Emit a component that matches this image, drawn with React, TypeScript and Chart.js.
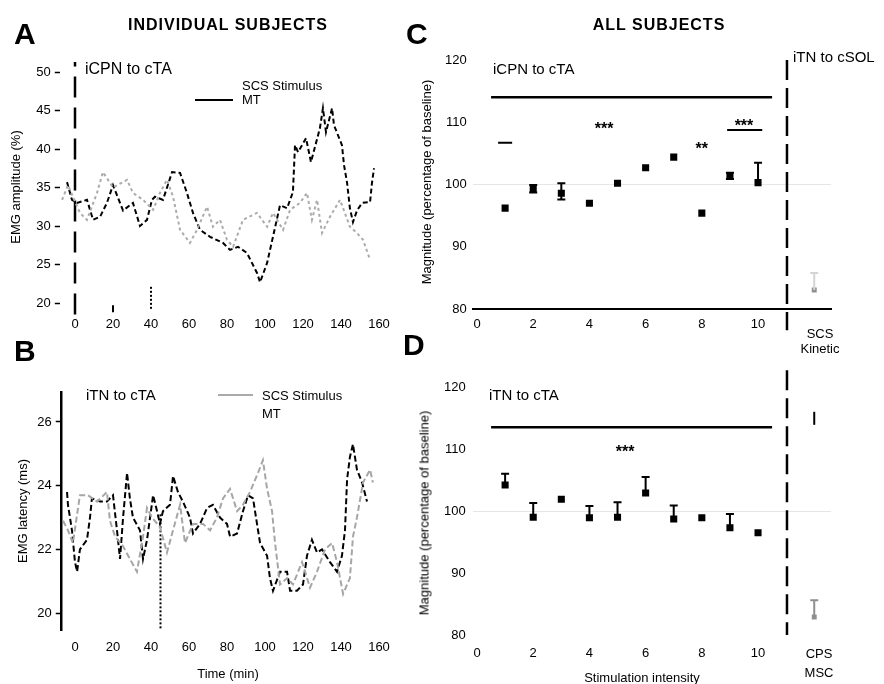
import React, { useEffect, useRef } from "react";
import { Chart, registerables } from "chart.js";

Chart.register(...registerables);

const FONT = "'Liberation Sans', Arial, Helvetica, sans-serif";
const PAGE_W = 884;
const PAGE_H = 684;
const AXW = 50;
const AXH = 30;

// ---------------- Panel A : individual subject, iCPN to cTA ----------------
const aBlackTime = [-4.2, -1.6, 1.1, 6.3, 9.5, 13.2, 16.8, 20, 25.3, 30.5, 34.2, 37.9, 40.5, 42.1, 46.3, 51.1, 55.3, 58.9, 62.1, 65.8, 71.1, 77.9, 81.6, 85.8, 90.5, 95.8, 97.4, 101.1, 104.2, 107.9, 111.6, 114.7, 115.8, 117.4, 121.6, 124.2, 128.9, 130.5, 132.1, 135.3, 136.3, 140.5, 141.6, 143.2, 144.7, 146.3, 148.4, 151.1, 155.3, 156.3, 157.4];
const aBlackValue = [35.7, 33.4, 33.0, 33.4, 30.8, 31.2, 33.0, 35.3, 32.0, 33.0, 30.0, 30.8, 33.4, 33.8, 33.4, 37.0, 36.9, 34.3, 31.7, 29.5, 28.6, 27.8, 26.9, 27.3, 26.5, 23.9, 22.7, 25.2, 28.6, 32.7, 32.3, 34.4, 40.5, 39.6, 41.4, 38.3, 42.7, 45.3, 42.2, 45.3, 43.1, 40.5, 37.9, 35.6, 32.3, 30.5, 32.0, 33.0, 33.1, 35.6, 37.5];
const aGrayTime = [-6.8, -3.7, 2.6, 6.3, 11.6, 14.7, 20.0, 27.4, 30.5, 35.8, 41.1, 44.7, 48.4, 51.6, 55.3, 60.5, 64.2, 69.5, 72.6, 76.3, 80.0, 83.2, 88.4, 95.8, 101.1, 104.2, 109.5, 113.2, 118.4, 122.1, 124.7, 127.4, 130.0, 134.2, 139.5, 144.7, 148.4, 151.6, 155.3];
const aGrayValue = [33.4, 35.3, 31.7, 30.8, 34.3, 37.0, 35.0, 36.0, 34.3, 33.4, 32.1, 34.3, 36.0, 33.8, 29.5, 27.8, 29.5, 32.5, 29.9, 30.8, 28.2, 27.3, 30.8, 31.7, 29.9, 31.7, 29.5, 32.1, 33.0, 34.3, 30.8, 33.4, 29.1, 31.2, 33.4, 29.9, 29.1, 28.2, 25.6];
const aTimeTicks = [0, 20, 40, 60, 80, 100, 120, 140, 160];
const aValueTicks = [20, 25, 30, 35, 40, 45, 50];
const aOnsetSpan = [18.5, 51.3];
const aMarkTime = 20;
const aMarkSpan = [19.7, 18.8];
const aDotTime = 40;
const aDotSpan = [22.1, 19.0];

// ---------------- Panel B : individual subject, iTN to cTA ----------------
const bBlackTime = [-4.2, -3.7, -1.6, 0, 1.1, 2.6, 6.3, 7.9, 8.9, 13.2, 16.8, 20.0, 22.1, 23.7, 25.3, 27.4, 28.9, 30.5, 34.2, 35.8, 37.9, 41.1, 43.2, 44.7, 46.3, 50.0, 51.6, 54.2, 56.8, 60.5, 62.1, 65.8, 69.5, 72.6, 76.3, 80.0, 81.6, 85.3, 88.4, 91.1, 93.7, 95.8, 97.4, 101.1, 102.6, 104.2, 107.9, 111.6, 113.2, 116.8, 120.0, 122.1, 124.7, 127.4, 130.0, 134.2, 137.9, 140.5, 142.1, 143.2, 144.7, 146.3, 148.4, 151.1, 153.7];
const bBlackValue = [23.8, 23.4, 22.6, 21.6, 21.3, 22.0, 22.3, 23.0, 23.6, 23.5, 23.5, 23.7, 22.6, 21.7, 23.0, 24.4, 23.6, 23.0, 22.6, 21.7, 22.3, 23.7, 23.2, 22.8, 23.2, 23.4, 24.3, 23.8, 23.5, 23.0, 22.5, 22.8, 23.3, 23.4, 23.0, 22.8, 22.4, 22.5, 23.2, 23.7, 23.6, 22.8, 22.2, 21.8, 21.1, 20.7, 21.3, 21.3, 20.7, 20.7, 20.9, 21.8, 22.3, 21.9, 22.0, 21.6, 21.3, 21.8, 22.6, 24.2, 24.9, 25.3, 24.5, 24.1, 23.5];
const bGrayTime = [-6.3, -3.7, -1.1, 1.6, 2.6, 6.8, 11.6, 16.8, 18.4, 21.1, 25.3, 28.9, 32.6, 35.8, 37.9, 40.5, 44.7, 48.4, 51.6, 55.3, 57.9, 62.1, 67.4, 71.1, 74.7, 77.9, 81.6, 85.3, 88.4, 92.1, 96.3, 98.9, 101.1, 103.7, 105.3, 107.9, 111.6, 114.7, 119.5, 123.7, 127.4, 131.6, 135.3, 137.9, 141.1, 144.7, 146.3, 148.4, 151.6, 155.3, 156.8];
const bGrayValue = [22.9, 22.6, 22.2, 23.3, 23.7, 23.7, 23.5, 23.8, 22.9, 22.4, 22.1, 21.7, 21.3, 22.4, 23.3, 23.0, 22.7, 21.9, 22.6, 23.4, 22.2, 22.8, 22.8, 22.6, 23.0, 23.6, 23.9, 23.2, 23.4, 23.8, 24.4, 24.8, 23.9, 23.2, 22.2, 20.9, 21.1, 20.9, 21.6, 20.8, 21.3, 22.0, 22.2, 21.6, 20.6, 21.1, 22.4, 23.0, 24.1, 24.5, 24.1];
const bTimeTicks = [0, 20, 40, 60, 80, 100, 120, 140, 160];
const bValueTicks = [20, 22, 24, 26];
const bDotTime = 45;
const bDotSpan = [23.1, 19.47];

// ---------------- Panel C : all subjects, iCPN to cTA ----------------
const intensity = [1, 2, 3, 4, 5, 6, 7, 8, 9, 10];
const intensityTicks = [0, 2, 4, 6, 8, 10];
const pctTicks = [80, 90, 100, 110, 120];
const cMean = [96.2, 99.3, 98.6, 97.0, 100.2, 102.7, 104.4, 95.4, 101.4, 100.3];
const cErrHi = [null, 99.9, 100.2, null, null, null, null, null, 101.9, 103.5];
const cErrLo = [null, 98.7, 97.6, null, null, null, null, null, 100.9, null];
const cScsPos = 12;
const cScsMean = 83.05;
const cScsErrHi = 85.8;
const cSigBar = { from: 0.5, to: 10.5, level: 114 };
const cSigShort = { from: 8.9, to: 10.15, level: 108.75 };
const cDash = { from: 0.75, to: 1.25, level: 106.7 };
const cStars = [
  { x: 4.52, y: 109.4, text: "***" },
  { x: 8.0, y: 106.3, text: "**" },
  { x: 9.5, y: 110.0, text: "***" },
];

// ---------------- Panel D : all subjects, iTN to cTA ----------------
const dMean = [104.2, 99.0, 101.9, 98.9, 99.0, 102.9, 98.7, 98.9, 97.3, 96.5];
const dErrHi = [106.0, 101.3, null, 100.8, 101.4, 105.5, 100.9, null, 99.5, null];
const dCpsPos = 12;
const dCpsMean = 82.9;
const dCpsErrHi = 85.6;
const dCpsBlackMid = 114.9;
const dCpsBlackHi = 116.0;
const dCpsBlackLo = 113.9;
const dSigBar = { from: 0.5, to: 10.5, level: 113.5 };
const dStars = [{ x: 5.27, y: 110.0, text: "***" }];

const separatorPos = 11.03;
const cSeparatorSpan = [120, 76.6];
const dSeparatorSpan = [122.7, 80];

// ---------------------------------------------------------------------
type Rect = { left: number; top: number; right: number; bottom: number };

const toXY = (xs: number[], ys: number[]) => xs.map((x, i) => ({ x, y: ys[i] }));

function lineDs(pts: any[], color: string, width: number, dash: number[] = [], clip: any = undefined) {
  const ds: any = {
    data: pts,
    showLine: true,
    borderColor: color,
    backgroundColor: color,
    borderWidth: width,
    borderDash: dash,
    pointRadius: 0,
    pointHoverRadius: 0,
    tension: 0,
    fill: false,
  };
  if (clip !== undefined) ds.clip = clip;
  return ds;
}

function padFor(r: Rect) {
  return { left: r.left - AXW, top: r.top, right: PAGE_W - r.right, bottom: PAGE_H - r.bottom - AXH };
}

function xScale(min: number, max: number, ticks: number[], pad: number, border: boolean, borderWidth = 2) {
  return {
    type: "linear",
    min,
    max,
    afterBuildTicks: (s: any) => {
      s.ticks = ticks.map((v) => ({ value: v }));
    },
    afterFit: (s: any) => {
      s.height = AXH;
    },
    ticks: { autoSkip: false, maxRotation: 0, minRotation: 0, padding: pad, color: "#000", font: { family: FONT, size: 13 } },
    grid: { display: false },
    border: border ? { display: true, color: "#000", width: borderWidth } : { display: false },
  };
}

function yScale(min: number, max: number, ticks: number[], pad: number, tickMarks: boolean, border: boolean, refLine: number | null) {
  return {
    type: "linear",
    min,
    max,
    afterBuildTicks: (s: any) => {
      s.ticks = ticks.map((v) => ({ value: v }));
    },
    afterFit: (s: any) => {
      s.width = AXW;
    },
    ticks: { padding: pad, color: "#000", font: { family: FONT, size: 13 } },
    grid: {
      display: true,
      drawOnChartArea: refLine !== null,
      drawTicks: tickMarks,
      tickLength: 5,
      tickColor: "#000",
      tickWidth: 1.5,
      color: (ctx: any) => (refLine !== null && ctx.tick && ctx.tick.value === refLine ? "#e6e6e6" : "rgba(0,0,0,0)"),
    },
    border: border ? { display: true, color: "#000", width: 2.5 } : { display: false },
  };
}

function makeExtras(texts: { x: number; y: number; text: string }[]) {
  return {
    id: "extras",
    afterDatasetsDraw(chart: any) {
      const ctx = chart.ctx;
      const xs = chart.scales.x;
      const ys = chart.scales.y;
      chart.data.datasets.forEach((ds: any) => {
        if (!ds.errHi && !ds.errLo) return;
        const caps = ds.errCaps !== false;
        ctx.save();
        ctx.strokeStyle = ds.errColor || "#000";
        ctx.lineWidth = 2;
        ds.data.forEach((p: any, j: number) => {
          const hi = ds.errHi ? ds.errHi[j] : null;
          const lo = ds.errLo ? ds.errLo[j] : null;
          if (hi == null && lo == null) return;
          const px = xs.getPixelForValue(p.x);
          const yTop = ys.getPixelForValue(hi == null ? p.y : hi);
          const yBot = ys.getPixelForValue(lo == null ? p.y : lo);
          ctx.beginPath();
          ctx.moveTo(px, yTop);
          ctx.lineTo(px, yBot);
          if (caps && hi != null) {
            ctx.moveTo(px - 4, yTop);
            ctx.lineTo(px + 4, yTop);
          }
          if (caps && lo != null) {
            ctx.moveTo(px - 4, yBot);
            ctx.lineTo(px + 4, yBot);
          }
          ctx.stroke();
        });
        ctx.restore();
      });
      ctx.save();
      ctx.fillStyle = "#000";
      ctx.textAlign = "center";
      ctx.textBaseline = "middle";
      ctx.font = `bold 16px ${FONT}`;
      texts.forEach((t) => ctx.fillText(t.text, xs.getPixelForValue(t.x), ys.getPixelForValue(t.y) + 4));
      ctx.restore();
    },
  };
}

function baseConfig(rect: Rect, datasets: any[], scales: any, texts: any[] = []): any {
  return {
    type: "scatter",
    data: { datasets },
    options: {
      responsive: false,
      animation: false,
      events: [],
      layout: { padding: padFor(rect) },
      plugins: { legend: { display: false }, tooltip: { enabled: false }, title: { display: false } },
      scales,
    },
    plugins: [makeExtras(texts)],
  };
}

function configA() {
  const rect = { left: 59.8, top: 64.3, right: 388.5, bottom: 310.7 };
  return baseConfig(
    rect,
    [
      lineDs(toXY(aGrayTime, aGrayValue), "#ababab", 2, [3, 3]),
      lineDs(toXY(aBlackTime, aBlackValue), "#000", 2, [5, 3]),
      lineDs(toXY([0, 0], aOnsetSpan), "#000", 2.5, [21, 10], false),
      lineDs(toXY([aMarkTime, aMarkTime], aMarkSpan), "#000", 2, [], false),
      lineDs(toXY([aDotTime, aDotTime], aDotSpan), "#000", 2, [2, 2], false),
    ],
    {
      x: xScale(-8, 165, aTimeTicks, -2.5, false),
      y: yScale(19, 51, aValueTicks, 4, true, false, null),
    }
  );
}

function configB() {
  const rect = { left: 60.75, top: 392, right: 388.5, bottom: 630 };
  return baseConfig(
    rect,
    [
      lineDs(toXY(bGrayTime, bGrayValue), "#a6a6a6", 2, [6, 3]),
      lineDs(toXY(bBlackTime, bBlackValue), "#000", 2, [6, 3]),
      lineDs(toXY([bDotTime, bDotTime], bDotSpan), "#000", 2, [2, 2], false),
    ],
    {
      x: xScale(-7.5, 165, bTimeTicks, 2, false),
      y: yScale(19.47, 26.94, bValueTicks, 4, true, true, null),
    }
  );
}

function configC() {
  const rect = { left: 472.8, top: 60, right: 831.1, bottom: 309 };
  const main: any = {
    data: toXY(intensity, cMean),
    showLine: false,
    pointStyle: "rect",
    pointRadius: 5,
    pointHoverRadius: 5,
    backgroundColor: "#000",
    borderColor: "#000",
    borderWidth: 0,
    errHi: cErrHi,
    errLo: cErrLo,
  };
  const scs: any = {
    data: [{ x: cScsPos, y: cScsMean }],
    showLine: false,
    pointStyle: "rect",
    pointRadius: 3.5,
    backgroundColor: "#8f8f8f",
    borderColor: "#8f8f8f",
    borderWidth: 0,
    errHi: [cScsErrHi],
    errColor: "#d4d4d4",
  };
  return baseConfig(
    rect,
    [
      main,
      scs,
      lineDs(toXY([cSigBar.from, cSigBar.to], [cSigBar.level, cSigBar.level]), "#000", 2.5),
      lineDs(toXY([cSigShort.from, cSigShort.to], [cSigShort.level, cSigShort.level]), "#000", 2),
      lineDs(toXY([cDash.from, cDash.to], [cDash.level, cDash.level]), "#000", 2),
      lineDs(toXY([separatorPos, separatorPos], cSeparatorSpan), "#000", 2.5, [20, 8], false),
    ],
    {
      x: xScale(-0.15, 12.6, intensityTicks, 0, true),
      y: yScale(80, 120, pctTicks, 6, false, false, 100),
    },
    cStars
  );
}

function configD() {
  const rect = { left: 472.8, top: 387, right: 831.1, bottom: 635 };
  const main: any = {
    data: toXY(intensity, dMean),
    showLine: false,
    pointStyle: "rect",
    pointRadius: 5,
    pointHoverRadius: 5,
    backgroundColor: "#000",
    borderColor: "#000",
    borderWidth: 0,
    errHi: dErrHi,
  };
  const cps: any = {
    data: [{ x: dCpsPos, y: dCpsMean }],
    showLine: false,
    pointStyle: "rect",
    pointRadius: 3.5,
    backgroundColor: "#8f8f8f",
    borderColor: "#8f8f8f",
    borderWidth: 0,
    errHi: [dCpsErrHi],
    errColor: "#8f8f8f",
  };
  const cpsBlack: any = {
    data: [{ x: dCpsPos, y: dCpsBlackMid }],
    showLine: false,
    pointRadius: 0,
    errHi: [dCpsBlackHi],
    errLo: [dCpsBlackLo],
    errCaps: false,
  };
  return baseConfig(
    rect,
    [
      main,
      cps,
      cpsBlack,
      lineDs(toXY([dSigBar.from, dSigBar.to], [dSigBar.level, dSigBar.level]), "#000", 2.5),
      lineDs(toXY([separatorPos, separatorPos], dSeparatorSpan), "#000", 2.5, [20, 8], false),
    ],
    {
      x: xScale(-0.15, 12.6, intensityTicks, 3, false),
      y: yScale(80, 120, pctTicks, 7, false, false, 100),
    },
    dStars
  );
}

type TProps = {
  x: number;
  y: number;
  size?: number;
  bold?: boolean;
  align?: "left" | "center" | "right";
  rotate?: number;
  spacing?: number;
  children: React.ReactNode;
};

function T({ x, y, size = 13, bold = false, align = "left", rotate = 0, spacing = 0, children }: TProps) {
  const tx = align === "center" ? "-50%" : align === "right" ? "-100%" : "0";
  return (
    <div
      style={{
        position: "absolute",
        left: x,
        top: y,
        transform: `translate(${tx}, -50%)${rotate ? ` rotate(${rotate}deg)` : ""}`,
        fontSize: size,
        fontWeight: bold ? "bold" : "normal",
        lineHeight: 1,
        whiteSpace: "nowrap",
        letterSpacing: spacing,
        color: "#000",
        fontFamily: FONT,
      }}
    >
      {children}
    </div>
  );
}

export default function App() {
  const refA = useRef<HTMLCanvasElement>(null);
  const refB = useRef<HTMLCanvasElement>(null);
  const refC = useRef<HTMLCanvasElement>(null);
  const refD = useRef<HTMLCanvasElement>(null);

  useEffect(() => {
    const charts = [
      new Chart(refA.current as HTMLCanvasElement, configA()),
      new Chart(refB.current as HTMLCanvasElement, configB()),
      new Chart(refC.current as HTMLCanvasElement, configC()),
      new Chart(refD.current as HTMLCanvasElement, configD()),
    ];
    return () => charts.forEach((c) => c.destroy());
  }, []);

  const cv = { position: "absolute" as const, left: 0, top: 0, width: PAGE_W, height: PAGE_H };

  return (
    <div
      style={{
        position: "fixed",
        left: 0,
        top: 0,
        width: PAGE_W,
        height: PAGE_H,
        background: "#fff",
        overflow: "hidden",
        fontFamily: FONT,
      }}
    >
      <canvas ref={refA} width={PAGE_W} height={PAGE_H} style={cv} />
      <canvas ref={refB} width={PAGE_W} height={PAGE_H} style={cv} />
      <canvas ref={refC} width={PAGE_W} height={PAGE_H} style={cv} />
      <canvas ref={refD} width={PAGE_W} height={PAGE_H} style={cv} />

      <T x={228} y={25} size={16} bold align="center" spacing={1}>INDIVIDUAL SUBJECTS</T>
      <T x={659} y={25} size={16} bold align="center" spacing={1}>ALL SUBJECTS</T>

      <T x={14} y={34} size={30} bold>A</T>
      <T x={14} y={351} size={30} bold>B</T>
      <T x={406} y={34} size={30} bold>C</T>
      <T x={403} y={345} size={30} bold>D</T>

      {/* Panel A */}
      <T x={85} y={69} size={16}>iCPN to cTA</T>
      <div style={{ position: "absolute", left: 195, top: 99, width: 38, height: 2, background: "#000" }} />
      <T x={242} y={85} size={13}>SCS Stimulus</T>
      <T x={242} y={99} size={13}>MT</T>
      <T x={15} y={187} size={13} align="center" rotate={-90}>EMG amplitude (%)</T>

      {/* Panel B */}
      <T x={86} y={394} size={15}>iTN to cTA</T>
      <div style={{ position: "absolute", left: 218, top: 394, width: 35, height: 2, background: "#aaaaaa" }} />
      <T x={262} y={395} size={13}>SCS Stimulus</T>
      <T x={262} y={413} size={13}>MT</T>
      <T x={22} y={511} size={13} align="center" rotate={-90}>EMG latency (ms)</T>
      <T x={228} y={673} size={13} align="center">Time (min)</T>

      {/* Panel C */}
      <T x={493} y={68} size={15}>iCPN to cTA</T>
      <T x={793} y={56} size={15}>iTN to cSOL</T>
      <T x={426} y={182} size={13} align="center" rotate={-90}>Magnitude (percentage of baseline)</T>
      <T x={820} y={333} size={13} align="center">SCS</T>
      <T x={820} y={348} size={13} align="center">Kinetic</T>

      {/* Panel D */}
      <T x={489} y={394} size={15}>iTN to cTA</T>
      <T x={424} y={513} size={13} align="center" rotate={-90}>Magnitude (percentage of baseline)</T>
      <T x={642} y={677} size={13} align="center">Stimulation intensity</T>
      <T x={819} y={653} size={13} align="center">CPS</T>
      <T x={819} y={672} size={13} align="center">MSC</T>
    </div>
  );
}
